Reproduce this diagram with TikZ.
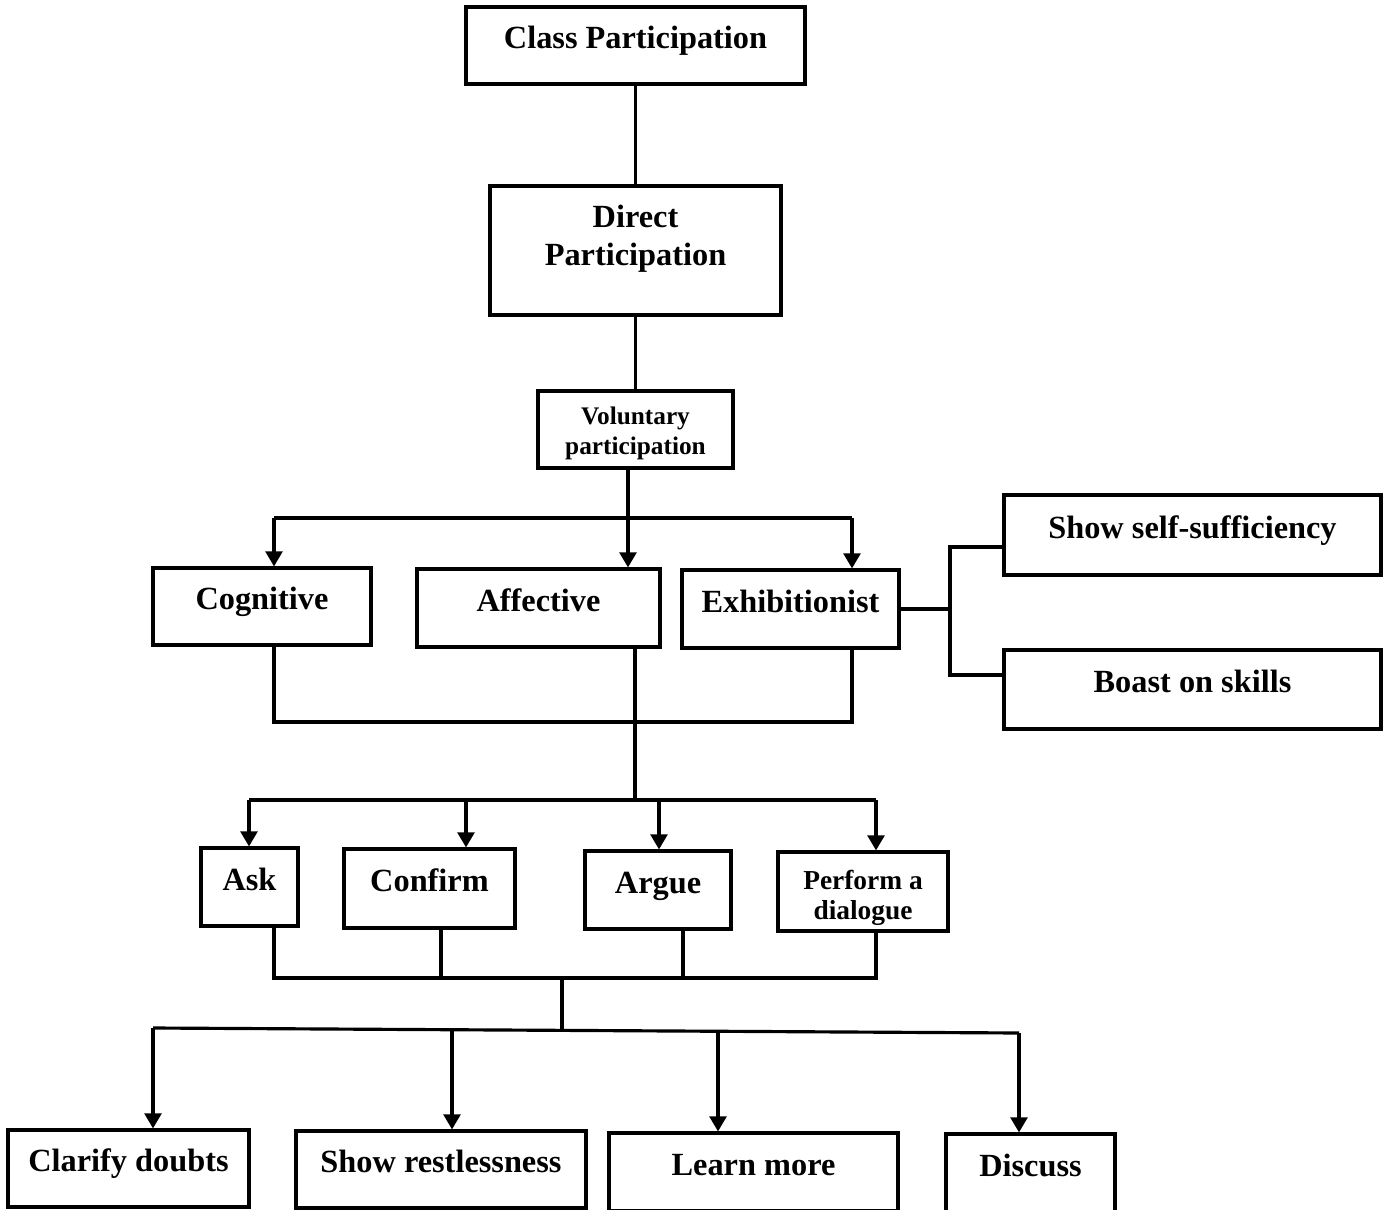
\documentclass[tikz,border=0pt]{standalone}
\usepackage{fontspec}
\setmainfont{Liberation Serif}
\usetikzlibrary{arrows.meta}
\tikzset{
  box/.style={draw, line width=0.9pt, inner sep=0pt, align=center,
    text height=6.3pt, text depth=4.4pt,
    font=\fontsize{9.2}{10.8}\selectfont\bfseries},
  smallbox/.style={box, text height=15.4pt, text depth=1pt, font=\fontsize{7.2}{8.5}\selectfont\bfseries},
  link/.style={line width=0.9pt},
  arr/.style={link, -{Triangle[length=4.3pt, width=4.8pt]}}
}
\begin{document}
\begin{tikzpicture}
            \useasboundingbox (0,0) rectangle (13.83,-12.10);
            % top chain
            \node[box, minimum width=3.39cm, minimum height=0.77cm] (cls) at (6.355,-0.455) {Class Participation};
            \node[box, minimum width=2.91cm, minimum height=1.29cm, text height=9.3pt, text depth=1pt] (dir) at (6.355,-2.505) {Direct\\Participation};
            \node[smallbox, minimum width=1.95cm, minimum height=0.77cm] (vol) at (6.355,-4.295) {Voluntary\\participation};
            \draw[link] (cls.south) -- (dir.north);
            \draw[link] (dir.south) -- (vol.north);
            % second level
            \node[box, minimum width=2.18cm, minimum height=0.77cm] (cog) at (2.62,-6.065) {Cognitive};
            \node[box, minimum width=2.43cm, minimum height=0.78cm] (aff) at (5.385,-6.08) {Affective};
            \node[box, minimum width=2.17cm, minimum height=0.78cm] (exh) at (7.905,-6.09) {Exhibitionist};
            \coordinate (b1) at (6.28,-5.18);
            \coordinate (bL) at (2.74,-5.18);
            \coordinate (bR) at (8.52,-5.18);
            \draw[arr] (vol.south -| b1) -- (b1 |- aff.north);
            \draw[link] (bL) -- (bR);
            \draw[arr] (bL) -- (bL |- cog.north);
            \draw[arr] (bR) -- (bR |- exh.north);
            % exhibitionist branch
            \node[box, minimum width=3.77cm, minimum height=0.80cm] (self) at (11.925,-5.35) {Show self-sufficiency};
            \node[box, minimum width=3.77cm, minimum height=0.79cm] (boast) at (11.925,-6.895) {Boast on skills};
            \coordinate (fork) at (9.50,-6.09);
            \coordinate (s1) at (9.50,-5.47);
            \coordinate (s2) at (9.50,-6.75);
            \draw[link] (exh.east) -- (fork);
            \draw[link] (s1 -| self.west) -- (s1) -- (s2) -- (s2 -| boast.west);
            % merge of second level
            \coordinate (mL) at (2.74,-7.22);
            \coordinate (mR) at (8.52,-7.22);
            \coordinate (b2) at (6.35,-8.00);
            \draw[link] (mL |- cog.south) -- (mL) -- (mR) -- (mR |- exh.south);
            \draw[link] (b2 |- aff.south) -- (b2);
            % third level
            \node[box, minimum width=0.97cm, minimum height=0.78cm] (ask) at (2.495,-8.87) {Ask};
            \node[box, minimum width=1.71cm, minimum height=0.79cm] (conf) at (4.295,-8.885) {Confirm};
            \node[box, minimum width=1.46cm, minimum height=0.78cm] (argue) at (6.58,-8.90) {Argue};
            \node[smallbox, minimum width=1.70cm, minimum height=0.79cm, text height=17.1pt, font=\fontsize{7.8}{8.5}\selectfont\bfseries] (perf) at (8.63,-8.915) {Perform a\\dialogue};
            \draw[link] (2.49,-8.00) -- (8.76,-8.00);
            \draw[arr] (2.49,-8.00) -- (2.49,-8.00 |- ask.north);
            \draw[arr] (4.66,-8.00) -- (4.66,-8.00 |- conf.north);
            \draw[arr] (6.59,-8.00) -- (6.59,-8.00 |- argue.north);
            \draw[arr] (8.76,-8.00) -- (8.76,-8.00 |- perf.north);
            % merge of third level
            \coordinate (j) at (5.62,-9.78);
            \coordinate (b3) at (5.62,-10.29);
            \draw[link] (2.74,-9.78 |- ask.south) -- (2.74,-9.78) -- (8.76,-9.78) -- (8.76,-9.78 |- perf.south);
            \draw[link] (4.41,-9.78 |- conf.south) -- (4.41,-9.78);
            \draw[link] (6.83,-9.78 |- argue.south) -- (6.83,-9.78);
            \draw[link] (j) -- (b3);
            % bottom level
            \node[box, minimum width=2.41cm, minimum height=0.77cm] (clar) at (1.285,-11.685) {Clarify doubts};
            \node[box, minimum width=2.90cm, minimum height=0.77cm] (rest) at (4.41,-11.695) {Show restlessness};
            \node[box, minimum width=2.89cm, minimum height=0.78cm] (learn) at (7.535,-11.72) {Learn more};
            \node[box, minimum width=1.69cm, minimum height=0.78cm] (disc) at (10.305,-11.73) {Discuss};
            \draw[link] (1.53,-10.28) -- (10.19,-10.33);
            \draw[arr] (1.53,-10.28) -- (1.53,-10.28 |- clar.north);
            \draw[arr] (4.52,-10.30) -- (4.52,-10.30 |- rest.north);
            \draw[arr] (7.18,-10.31) -- (7.18,-10.31 |- learn.north);
            \draw[arr] (10.19,-10.33) -- (10.19,-10.33 |- disc.north);
        \end{tikzpicture}
\end{document}
